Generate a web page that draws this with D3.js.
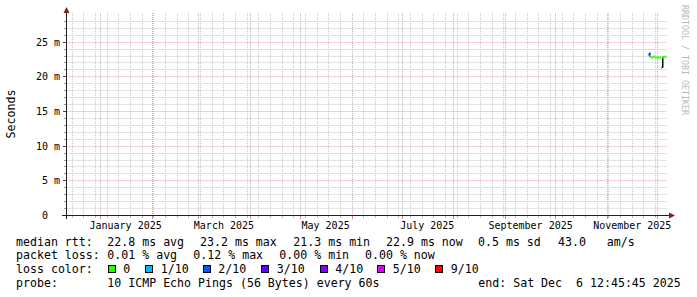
<!DOCTYPE html>
<html><head><meta charset="utf-8">
<script src="https://cdn.jsdelivr.net/npm/d3@7"></script>
<style>
body{margin:0;background:#fff}
svg{display:block}
text{font-family:"DejaVu Sans Mono",monospace;white-space:pre}
</style>
</head><body>
<svg id="c" width="697" height="297" xml:space="preserve"></svg>
<script>
// ---------- data ----------
const endTime = "2025-12-06T12:45:45Z";
const spanDays = 360;
const yMaxMs = 28.85;
const yMajorTicks = [0, 5, 10, 15, 20, 25];
const yTickLabels = ["0  ", "5 m", "10 m", "15 m", "20 m", "25 m"];

const dates = ["2025-11-26T06:00Z","2025-11-26T20:00Z","2025-11-27T12:00Z","2025-11-28T12:00Z",
  "2025-11-29T12:00Z","2025-11-30T12:00Z","2025-12-01T12:00Z","2025-12-02T12:00Z",
  "2025-12-03T06:00Z","2025-12-03T20:00Z","2025-12-04T12:00Z","2025-12-05T12:00Z","2025-12-06T12:00Z"];
const median  = [23.2, 23.0, 22.8, 22.8, 22.9, 22.8, 22.8, 22.8, 22.8, 21.3, 22.8, 22.9, 22.9];
const lossIdx = [1, 0, 0, 0, 0, 0, 0, 0, 0, 1, 0, 0, 0];
const smokeLo = [22.9, 23.0, 22.8, 22.8, 22.9, 22.8, 22.8, 22.8, 22.8, 21.3, 22.8, 22.9, 22.9];
const smokeHi = [23.5, 23.0, 22.8, 22.8, 22.9, 22.8, 22.8, 22.8, 22.8, 22.9, 22.8, 22.9, 22.9];

const lossLabels = ["0", "1/10", "2/10", "3/10", "4/10", "5/10", "9/10"];
const lossColors = ["#26ff00", "#00b8ff", "#0059ff", "#5e00ff", "#7e00ff", "#dd00ff", "#ff0000"];

const rttTitle = "median rtt:";
const rttStats = ["22.8 ms avg", "23.2 ms max", "21.3 ms min", "22.9 ms now", "0.5 ms sd", "43.0   am/s"];
const lossTitle = "packet loss:";
const lossStats = ["0.01 % avg", "0.12 % max", "0.00 % min", "0.00 % now"];
const colorTitle = "loss color:";
const probeTitle = "probe:";
const probeText = "10 ICMP Echo Pings (56 Bytes) every 60s";
const endText = "end: Sat Dec  6 12:45:45 2025";
const yAxisTitle = "Seconds";
const watermark = "RRDTOOL / TOBI OETIKER";

// ---------- layout ----------
const svg = d3.select("#c");
svg.append("rect").attr("width", 697).attr("height", 297).attr("fill", "#fff");

const end = new Date(endTime);
const start = d3.utcDay.offset(end, -spanDays);
const X0 = 66.5, X1 = 666.5, Y0 = 215.5, Y1 = 15.5;
const x = d3.scaleTime().domain([start, end]).range([X0, X1]);
const y = d3.scaleLinear().domain([0, yMaxMs]).range([Y0, Y1]);
const px = v => Math.floor(v) + 0.5;

const minorCol = "#c9c9c9", majorCol = "#eba0a0";
const g = svg.append("g");

// horizontal grid
const yMinor = d3.range(1, Math.floor(yMaxMs) + 1).filter(v => v % 5 !== 0);
const yMaj = yMajorTicks.filter(v => v > 0);
g.selectAll(".hmin").data(yMinor).join("line")
  .attr("x1", X0).attr("x2", 667).attr("y1", d => px(y(d))).attr("y2", d => px(y(d)))
  .attr("stroke", minorCol).attr("stroke-dasharray", "1,1");
g.selectAll(".hminTick").data(yMinor).join("line")
  .attr("x1", 64).attr("x2", 67).attr("y1", d => px(y(d))).attr("y2", d => px(y(d)))
  .attr("stroke", "#999");
// vertical grid
const weeks = d3.utcSunday.range(start, end);
const months = d3.utcMonth.range(start, end);
g.selectAll(".vmin").data(weeks).join("line")
  .attr("x1", d => px(x(d))).attr("x2", d => px(x(d))).attr("y1", 13).attr("y2", 215)
  .attr("stroke", minorCol).attr("stroke-dasharray", "1,1");
g.selectAll(".vminTick").data(weeks).join("line")
  .attr("x1", d => px(x(d))).attr("x2", d => px(x(d))).attr("y1", 216).attr("y2", 218)
  .attr("stroke", "#bbb");
g.selectAll(".hmaj").data(yMaj).join("line")
  .attr("x1", X0).attr("x2", 667).attr("y1", d => px(y(d))).attr("y2", d => px(y(d)))
  .attr("stroke", majorCol).attr("stroke-dasharray", "1,1");
g.selectAll(".hmajTick").data(yMaj).join("line")
  .attr("x1", 63).attr("x2", 67).attr("y1", d => px(y(d))).attr("y2", d => px(y(d)))
  .attr("stroke", "#444");
g.selectAll(".vmaj").data(months).join("line")
  .attr("x1", d => px(x(d))).attr("x2", d => px(x(d))).attr("y1", 13).attr("y2", 215)
  .attr("stroke", majorCol).attr("stroke-dasharray", "1,1");
g.selectAll(".vmajTick").data(months).join("line")
  .attr("x1", d => px(x(d))).attr("x2", d => px(x(d))).attr("y1", 216).attr("y2", 219)
  .attr("stroke", "#d88");

// y tick labels
svg.selectAll(".ylab").data(yMajorTicks).join("text")
  .attr("x", 60).attr("y", d => px(y(d)) + 3.5).attr("text-anchor", "end")
  .attr("font-size", 10).attr("fill", "#000")
  .text((d, i) => yTickLabels[i]);

// x labels every 2 months, centred at month start + 15 days
const labMonths = d3.utcMonth.every(2).range(start, end);
svg.selectAll(".xlab").data(labMonths).join("text")
  .attr("x", d => x(d3.utcDay.offset(d, 15))).attr("y", 228.8).attr("text-anchor", "middle")
  .attr("font-size", 10).attr("fill", "#000")
  .text(d => d3.utcFormat("%B %Y")(d));

// data: smoke + median coloured by loss
const pts = dates.map((d, i) => ({t: new Date(d), m: median[i], l: lossIdx[i], lo: smokeLo[i], hi: smokeHi[i]}));
const dg = svg.append("g");
dg.selectAll(".smoke").data(pts.filter(p => p.hi > p.lo)).join("rect")
  .attr("x", p => Math.floor(x(p.t))).attr("width", 1.5)
  .attr("y", p => y(p.hi)).attr("height", p => y(p.lo) - y(p.hi))
  .attr("fill", "#111");
dg.selectAll(".med").data(pts).join("line")
  .attr("x1", (p, i) => i === 0 ? x(p.t) - 1.5 : x(pts[i - 1].t))
  .attr("x2", p => x(p.t))
  .attr("y1", p => y(p.m)).attr("y2", p => y(p.m))
  .attr("stroke", p => lossColors[p.l]).attr("stroke-width", 2);

// axes
const axisCol = "#202020", arrowCol = "#7f1f1f";
svg.append("line").attr("x1", 62).attr("x2", 670).attr("y1", 215.5).attr("y2", 215.5).attr("stroke", axisCol);
svg.append("line").attr("x1", 66.5).attr("x2", 66.5).attr("y1", 219).attr("y2", 11).attr("stroke", axisCol);
svg.append("path").attr("d", "M66.5,7 L69.5,13 L63.5,13 Z").attr("fill", arrowCol);
svg.append("path").attr("d", "M675,215.5 L669,212.5 L669,218.5 Z").attr("fill", arrowCol);

// y title
svg.append("text").attr("transform", "translate(15,114) rotate(-90)")
  .attr("text-anchor", "middle").attr("font-size", 11.6).attr("fill", "#000").text(yAxisTitle);
// watermark
svg.append("text").attr("transform", "translate(682,5) rotate(90)")
  .attr("font-size", 8.3).attr("fill", "#b8b8b8").text(watermark);

// legend
const FS = 11.6, LX = 16, VX = 107.3;
const lines = [245.5, 259.2, 272.9, 286.6];
const lg = svg.append("g").attr("font-size", FS).attr("fill", "#000");
lg.append("text").attr("x", LX).attr("y", lines[0]).text(rttTitle);
const rttX = [VX, 200, 293.3, 386, 478, 558];
rttStats.forEach((s, i) => lg.append("text").attr("x", rttX[i]).attr("y", lines[0]).text(s));
lg.append("text").attr("x", LX).attr("y", lines[1]).text(lossTitle);
const lossX = [VX, 193.3, 279.3, 365];
lossStats.forEach((s, i) => lg.append("text").attr("x", lossX[i]).attr("y", lines[1]).text(s));
lg.append("text").attr("x", LX).attr("y", lines[2]).text(colorTitle);
const boxX = [108.3, 145.7, 203.3, 261.7, 320.3, 377.7, 435.7];
lossLabels.forEach((s, i) => {
  lg.append("rect").attr("x", Math.floor(boxX[i]) + 0.5).attr("y", 265.5).attr("width", 7).attr("height", 7)
    .attr("fill", lossColors[i]).attr("stroke", "#000");
  lg.append("text").attr("x", boxX[i] + 15).attr("y", lines[2]).text(s);
});
lg.append("text").attr("x", LX).attr("y", lines[3]).text(probeTitle);
lg.append("text").attr("x", VX).attr("y", lines[3]).text(probeText);
lg.append("text").attr("x", 478.3).attr("y", lines[3]).text(endText);
</script>
</body></html>
